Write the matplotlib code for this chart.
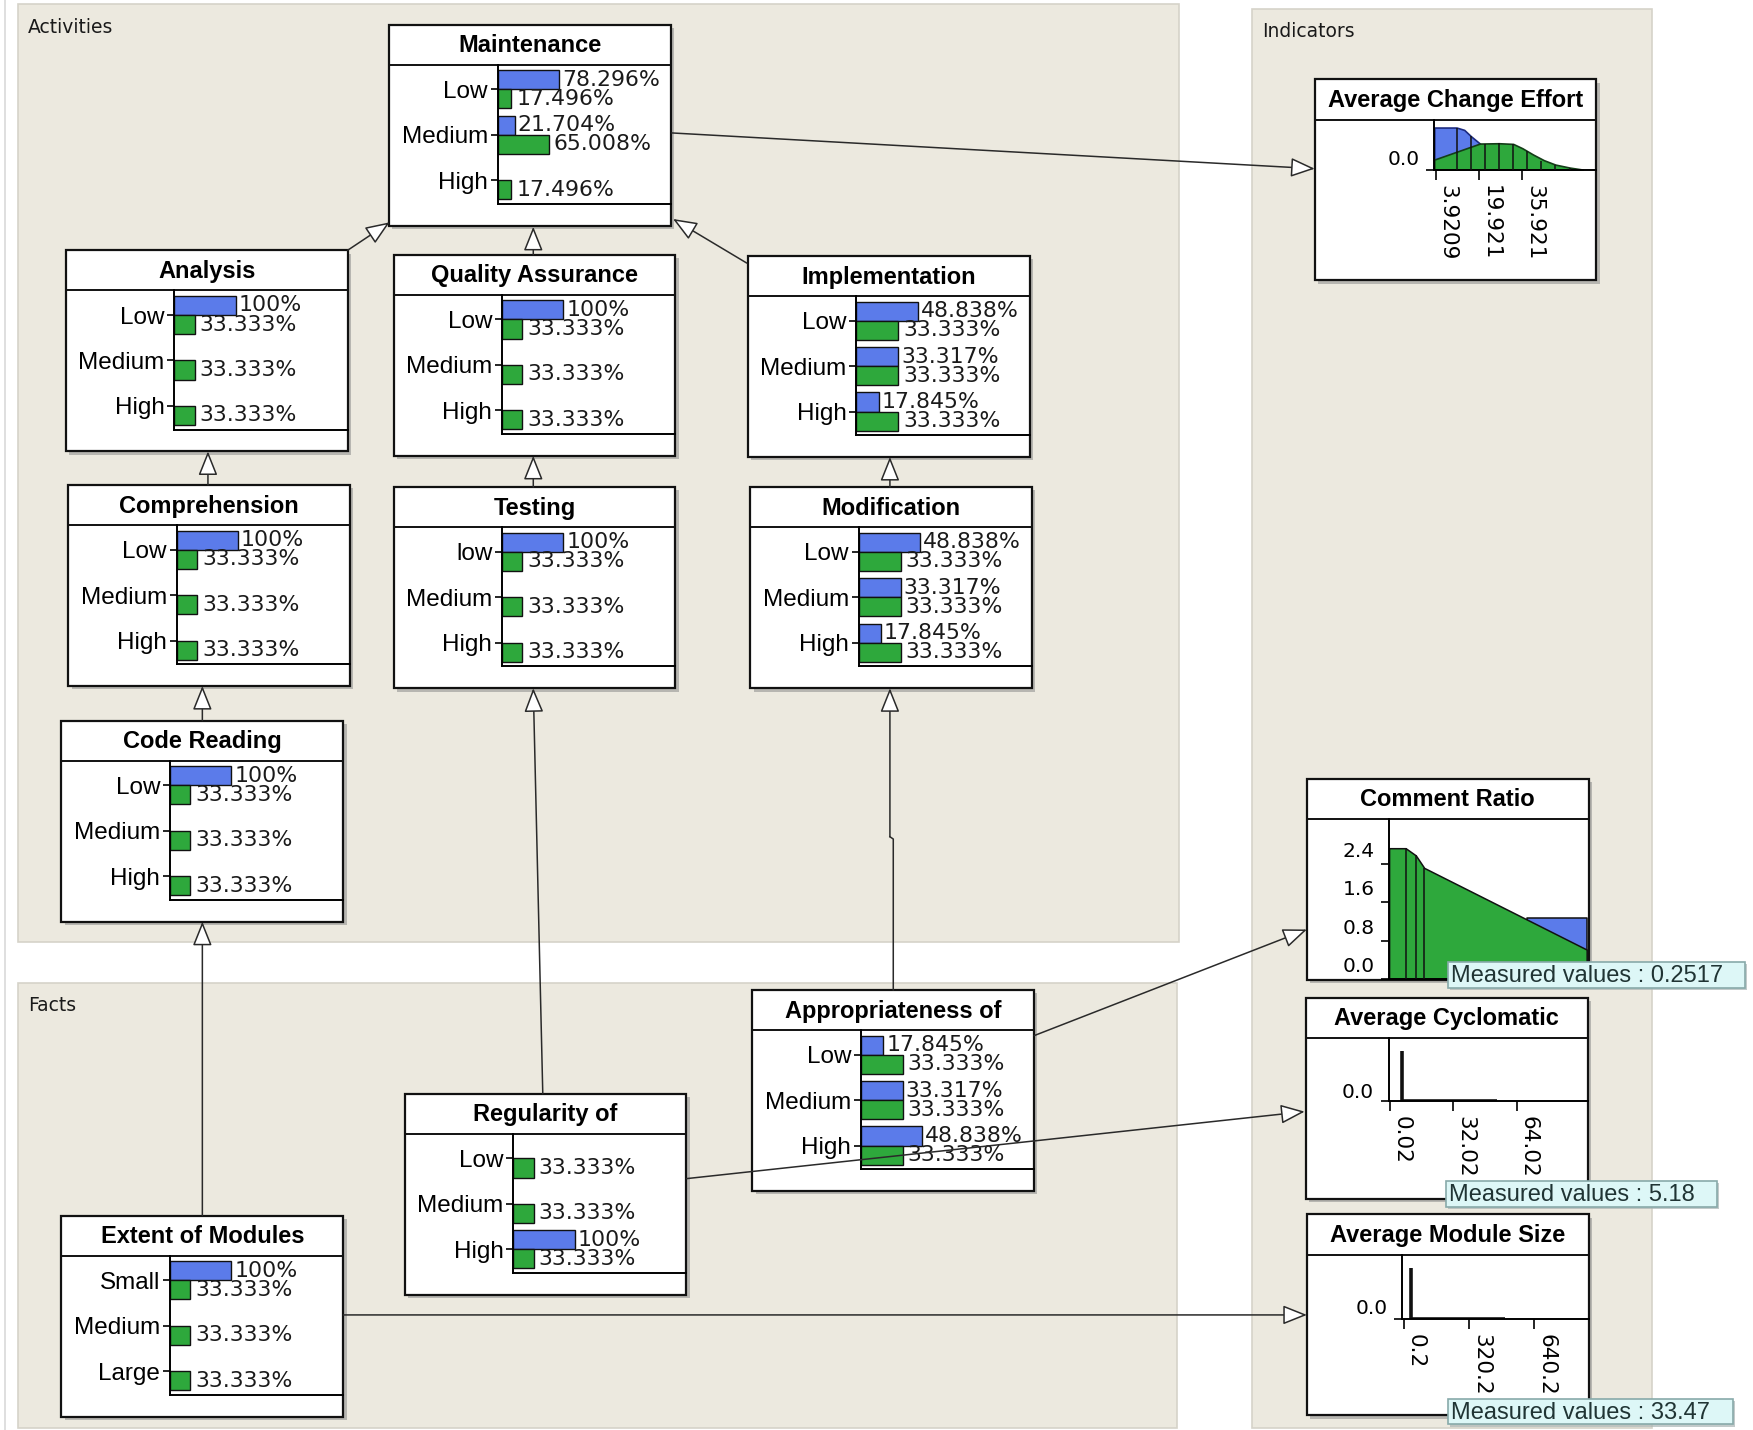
import matplotlib
matplotlib.use("Agg")
import matplotlib.pyplot as plt
import numpy as np
from matplotlib.patches import FancyArrowPatch, Rectangle
from matplotlib.transforms import ScaledTranslation

# layout grid: the reference measured at 1568 x 1280, saved at 1753 x 1430
W, H = 1568.0, 1280.0

BLUE = "#5b7bea"
GREEN = "#2ea83c"
PANEL_BG = "#ece9df"
PANEL_EDGE = "#d6d3c9"
SANS = "Liberation Sans"
NUM = "DejaVu Sans"

TITLE_H = 36
BOX_W, BOX_H = 252, 180
AXIS_DX = 97
CHART_H = 124.5
BAR_MAX_PX = 55

# ---- data ------------------------------------------------------------
lmh = ["Low", "Medium", "High"]
testing_states = ["low", "Medium", "High"]
extent_states = ["Small", "Medium", "Large"]
prior_green = [33.333, 33.333, 33.333]

maintenance_blue = [78.296, 21.704, 0.0]
maintenance_green = [17.496, 65.008, 17.496]
analysis_blue = [100.0, 0.0, 0.0]
quality_blue = [100.0, 0.0, 0.0]
implementation_blue = [48.838, 33.317, 17.845]
comprehension_blue = [100.0, 0.0, 0.0]
testing_blue = [100.0, 0.0, 0.0]
modification_blue = [48.838, 33.317, 17.845]
code_reading_blue = [100.0, 0.0, 0.0]
appropriateness_blue = [17.845, 33.317, 48.838]
regularity_blue = [0.0, 0.0, 100.0]
extent_blue = [100.0, 0.0, 0.0]

# Average Change Effort (densities)
ace_blue_x = [3.43, 11.68, 14.5, 17.0, 20.3, 23.0]
ace_blue_y = [0.126, 0.126, 0.119, 0.100, 0.078, 0.0]
ace_green_x = [3.43, 20.3, 27.3, 32.6, 36.0, 40.0, 44.0, 48.2, 53.5, 58.4]
ace_green_y = [0.030, 0.078, 0.079, 0.077, 0.064, 0.045, 0.028, 0.015, 0.006, 0.0]
ace_edges = [11.68, 16.97, 22.14, 27.31, 32.6, 37.77, 43.07, 48.24, 53.5]
ace_edge_top = [0.126, 0.100, 0.078, 0.079, 0.077, 0.055, 0.026, 0.015, 0.006]
ace_ticks = [3.9209, 19.921, 35.921]

# Comment Ratio
cr_green_x = [0.0, 0.083, 0.134, 0.176, 0.99]
cr_green_y = [2.73, 2.73, 2.58, 2.32, 0.62]
cr_blue_x = [0.69, 0.99]
cr_blue_y = [1.28, 1.28]
cr_ticks = [0.0, 0.8, 1.6, 2.4]

# Average Cyclomatic / Average Module Size
cyc_x = [6.19, 6.19, 54.3]
cyc_y = [0.79, 0.0, 0.0]
cyc_ticks = [0.02, 32.02, 64.02]
mod_x = [38.0, 38.0, 496.0]
mod_y = [0.79, 0.0, 0.0]
mod_ticks = [0.2, 320.2, 640.2]

measured = ["0.2517", "5.18", "33.47"]


def frac(x, y, w, h):
    return [x / W, 1 - (y + h) / H, w / W, h / H]


def box(ax, x, y, title, w=BOX_W, h=BOX_H):
    ax.add_patch(Rectangle((x + 3, y + 3), w, h, fc="#8c8c8c", ec="none", alpha=0.55, zorder=2))
    ax.add_patch(Rectangle((x, y), w, h, fc="white", ec="#111111", lw=1.6, zorder=3))
    ax.plot([x, x + w], [y + TITLE_H, y + TITLE_H], color="#111111", lw=1.4, zorder=4)
    ax.text(x + w / 2, y + TITLE_H / 2 + 1, title, ha="center", va="center",
            fontsize=17, fontweight="bold", family=SANS, zorder=5)


def node(ax, x, y, title, states, blue, green):
    box(ax, x, y, title)
    fig = ax.figure
    bw = BOX_W - AXIS_DX
    bx = fig.add_axes(frac(x + AXIS_DX, y + TITLE_H, bw, CHART_H))
    bx.set_facecolor("none")
    pos = np.arange(len(states))
    blue = np.asarray(blue)
    green = np.asarray(green)
    vmax = max(blue.max(), green.max())
    nz = blue > 0
    bx.barh(pos[nz] - 0.21, blue[nz], height=0.42, color=BLUE, edgecolor="#111111", lw=1)
    bx.barh(pos + 0.21, green, height=0.42, color=GREEN, edgecolor="#111111", lw=1)
    for i, v in enumerate(blue):
        if v > 0:
            bx.annotate(f"{v:g}%", (v, i - 0.21), xytext=(2, 0), textcoords="offset points",
                        ha="left", va="center", fontsize=15.8, family=NUM, color="#1a1a1a")
    for i, v in enumerate(green):
        bx.annotate(f"{v:g}%", (v, i + 0.21), xytext=(3.5, 0), textcoords="offset points",
                    ha="left", va="center", fontsize=15.8, family=NUM, color="#1a1a1a")
    bx.set_xlim(0, vmax * bw / BAR_MAX_PX)
    bx.set_ylim(2.52, -0.54)
    bx.set_xticks([])
    bx.set_yticks(pos, states, fontsize=17.5, family=SANS)
    bx.tick_params(axis="y", length=5, width=1.2, pad=2)
    for s in ("top", "right"):
        bx.spines[s].set_visible(False)
    for s in ("left", "bottom"):
        bx.spines[s].set_linewidth(1.4)


def indicator(ax, x, y, title, axis_dx, chart_h, label_up=9.5):
    box(ax, x, y, title)
    fig = ax.figure
    cx = fig.add_axes(frac(x + axis_dx, y + TITLE_H, BOX_W - axis_dx, chart_h))
    cx.set_facecolor("none")
    for s in ("top", "right"):
        cx.spines[s].set_visible(False)
    for s in ("left", "bottom"):
        cx.spines[s].set_linewidth(1.4)
    cx.tick_params(axis="y", length=5.5, width=1.2, pad=5, labelsize=14.5)
    cx.tick_params(axis="x", length=7, width=1.2, pad=4, labelsize=15.5)
    cx._label_up = label_up
    return cx


def finish_ticks(cx, yticks, ylabels, xticks=None, xlabels=None):
    cx.set_yticks(yticks, ylabels, family=NUM)
    up = ScaledTranslation(0, cx._label_up / 72, cx.figure.dpi_scale_trans)
    for lab in cx.get_yticklabels():
        lab.set_transform(lab.get_transform() + up)
    if xticks is None:
        cx.set_xticks([])
    else:
        cx.set_xticks(xticks, xlabels, family=NUM)
        right = ScaledTranslation(1.5 / 72, 0, cx.figure.dpi_scale_trans)
        for lab in cx.get_xticklabels():
            lab.set_transform(lab.get_transform() + right)
        plt.setp(cx.get_xticklabels(), rotation=270, ha="left", va="top", rotation_mode="default")


def arrow(ax, p0, p1):
    ax.add_patch(FancyArrowPatch(p0, p1, arrowstyle="-|>,head_length=1.5,head_width=0.6",
                                 mutation_scale=10, fc="white", ec="#2a2a2a", lw=1.1,
                                 shrinkA=0, shrinkB=0, zorder=6))


def tooltip(ax, x, y, w, text):
    ax.add_patch(Rectangle((x + 2, y + 2), w, 23, fc="#a9b4b4", ec="none", alpha=0.7, zorder=7))
    ax.add_patch(Rectangle((x, y), w, 23, fc="#ddf7f7", ec="#88aaaa", lw=1.2, zorder=8))
    ax.text(x + 3, y + 12.5, text, ha="left", va="center", fontsize=17, family=SANS,
            color="#203434", zorder=9)


fig = plt.figure(figsize=(17.53, 14.30), dpi=100)
ax = fig.add_axes([0, 0, 1, 1])
ax.set_xlim(0, W)
ax.set_ylim(H, 0)
ax.axis("off")

# panels
ax.plot([4.5, 4.5], [0, H], color="#d9d9d9", lw=1.2)
for (px, py, pw, ph, label, ly) in [(16, 4, 1039, 839, "Activities", 25),
                                     (16, 880, 1037, 398, "Facts", 900),
                                     (1120, 8, 358, 1270, "Indicators", 28)]:
    ax.add_patch(Rectangle((px, py), pw, ph, fc=PANEL_BG, ec=PANEL_EDGE, lw=1.2, zorder=1))
    ax.text(px + 9, ly, label, ha="left", va="center", fontsize=13.5, family=NUM,
            color="#1a1a1a", zorder=2)

# activity and fact nodes
node(ax, 348, 22, "Maintenance", lmh, maintenance_blue, maintenance_green)
node(ax, 59, 224, "Analysis", lmh, analysis_blue, prior_green)
node(ax, 352, 228, "Quality Assurance", lmh, quality_blue, prior_green)
node(ax, 669, 229, "Implementation", lmh, implementation_blue, prior_green)
node(ax, 61, 434, "Comprehension", lmh, comprehension_blue, prior_green)
node(ax, 352, 436, "Testing", testing_states, testing_blue, prior_green)
node(ax, 671, 436, "Modification", lmh, modification_blue, prior_green)
node(ax, 55, 645, "Code Reading", lmh, code_reading_blue, prior_green)
node(ax, 673, 886, "Appropriateness of", lmh, appropriateness_blue, prior_green)
node(ax, 362, 979, "Regularity of", lmh, regularity_blue, prior_green)
node(ax, 55, 1088, "Extent of Modules", extent_states, extent_blue, prior_green)

# Average Change Effort
cx = indicator(ax, 1176, 71, "Average Change Effort", 107, 44.8, label_up=8.5)
cx.fill_between(ace_blue_x, ace_blue_y, color=BLUE, ec="#1c2a80", lw=1.2, zorder=1)
cx.fill_between(ace_green_x, ace_green_y, color=GREEN, ec="#143d18", lw=1.2, zorder=2)
cx.vlines(ace_edges, 0, ace_edge_top, color="#111111", lw=1.1, zorder=3)
cx.set_xlim(3.47, 63.4)
cx.set_ylim(0, 0.15)
finish_ticks(cx, [0.0], ["0.0"], ace_ticks, ["3.9209", "19.921", "35.921"])

# Comment Ratio
cx = indicator(ax, 1169, 697, "Comment Ratio", 73.5, 143.6, label_up=10.5)
cx.fill_between(cr_blue_x, cr_blue_y, color=BLUE, ec="#111111", lw=1.1, zorder=1)
cx.fill_between(cr_green_x, cr_green_y, color=GREEN, ec="#111111", lw=1.1, zorder=2)
cx.vlines(cr_green_x[1:-1], 0, cr_green_y[1:-1], color="#111111", lw=1.1, zorder=3)
cx.set_xlim(0, 1.0)
cx.set_ylim(0, 3.34)
finish_ticks(cx, cr_ticks, [f"{t:.1f}" for t in cr_ticks])

# Average Cyclomatic
cx = indicator(ax, 1168, 893, "Average Cyclomatic", 74, 56.7, label_up=8)
cx.plot(cyc_x, cyc_y, color="#111111", lw=2.6, solid_capstyle="butt")
cx.set_xlim(-0.6, 99.7)
cx.set_ylim(0, 1)
finish_ticks(cx, [0.0], ["0.0"], cyc_ticks, ["0.02", "32.02", "64.02"])

# Average Module Size
cx = indicator(ax, 1169, 1087, "Average Module Size", 85, 57.3, label_up=9)
cx.plot(mod_x, mod_y, color="#111111", lw=2.6, solid_capstyle="butt")
cx.set_xlim(-8.6, 907.6)
cx.set_ylim(0, 1)
finish_ticks(cx, [0.0], ["0.0"], mod_ticks, ["0.2", "320.2", "640.2"])

# links and tooltips on top of every node
top = fig.add_axes([0, 0, 1, 1], zorder=20)
top.set_xlim(0, W)
top.set_ylim(H, 0)
top.axis("off")
top.set_facecolor("none")

arrow(top, (601, 119), (1176, 151))
arrow(top, (311, 224), (348.5, 199))
arrow(top, (477, 228), (477, 203))
arrow(top, (668, 235.5), (602, 196))
arrow(top, (186, 434), (186, 404))
arrow(top, (477, 436), (477, 408))
arrow(top, (796, 436), (796, 409))
arrow(top, (181, 645), (181, 614))
arrow(top, (181, 1088), (181, 825))
arrow(top, (485.5, 979), (477, 616))
top.plot([799, 799, 796], [886, 751, 749], color="#2a2a2a", lw=1.1)
arrow(top, (796, 749), (796, 616))
arrow(top, (925, 927), (1169, 832))
arrow(top, (614, 1055), (1167, 995))
arrow(top, (307, 1177), (1169, 1177))

tooltip(top, 1295, 861, 266, f"Measured values : {measured[0]}")
tooltip(top, 1293, 1057, 243, f"Measured values : {measured[1]}")
tooltip(top, 1295, 1252, 255, f"Measured values : {measured[2]}")

fig.savefig("out.png", dpi=100)
